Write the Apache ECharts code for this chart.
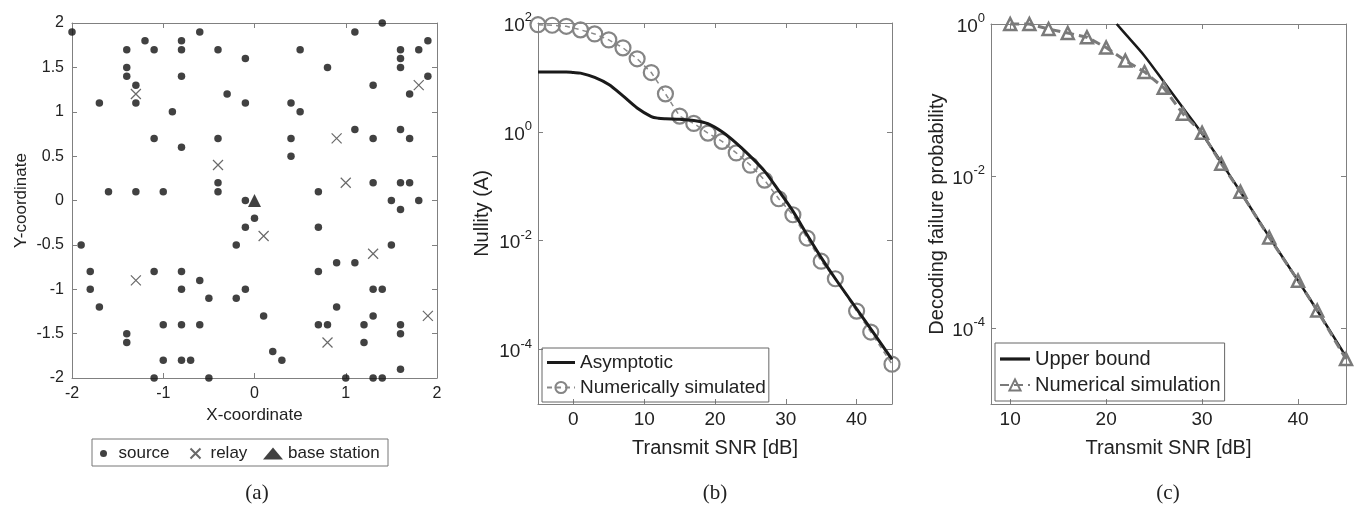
<!DOCTYPE html>
<html>
<head>
<meta charset="utf-8">
<script src="https://cdn.jsdelivr.net/npm/echarts@6/dist/echarts.min.js"></script>
<style>
html,body{margin:0;padding:0;background:#fff;}
#c{width:1356px;height:507px;}
</style>
</head>
<body>
<div id="c"></div>
<script>
// ---------- Panel (a): node positions ----------
const sourcePoints = [
  [-2.0,1.9],[-1.7,1.1],[-1.4,1.7],[-1.4,1.5],[-1.4,1.4],[-1.3,1.3],[-1.3,1.1],[-1.2,1.8],[-1.1,1.7],[-1.1,0.7],
  [-1.6,0.1],[-1.3,0.1],[-1.0,0.1],[-0.9,1.0],[-0.8,1.8],[-0.8,1.7],[-0.8,1.4],[-0.8,0.6],[-0.6,1.9],[-0.4,1.7],
  [-0.4,0.7],[-0.4,0.2],[-0.4,0.1],[-0.3,1.2],[-0.1,1.6],[-0.1,1.1],[-0.1,0.0],
  [0.5,1.7],[0.4,1.1],[0.5,1.0],[0.4,0.7],[0.4,0.5],[0.8,1.5],[0.7,0.1],[1.1,1.9],[1.4,2.0],[1.1,0.8],[1.3,1.3],
  [1.3,0.7],[1.3,0.2],[1.6,1.7],[1.6,1.6],[1.6,1.5],[1.6,0.8],[1.6,0.2],[1.7,1.2],[1.7,0.7],[1.7,0.2],[1.8,1.7],
  [1.9,1.8],[1.9,1.4],[1.5,0.0],[1.8,0.0],[1.6,-0.1],
  [0.0,-0.2],[-0.1,-0.3],[-0.2,-0.5],[-0.1,-1.0],[-0.2,-1.1],[-1.9,-0.5],[-1.8,-0.8],[-1.8,-1.0],[-1.7,-1.2],
  [-1.4,-1.5],[-1.4,-1.6],[-1.1,-0.8],[-1.1,-2.0],[-1.0,-1.4],[-1.0,-1.8],[-0.8,-0.8],[-0.8,-1.0],[-0.8,-1.4],
  [-0.8,-1.8],[-0.7,-1.8],[-0.6,-0.9],[-0.6,-1.4],[-0.5,-1.1],[-0.5,-2.0],
  [0.7,-0.3],[0.7,-0.8],[0.9,-0.7],[1.1,-0.7],[1.5,-0.5],[1.3,-1.0],[1.4,-1.0],[0.9,-1.2],[0.1,-1.3],[0.7,-1.4],
  [0.8,-1.4],[1.2,-1.4],[1.3,-1.3],[1.6,-1.4],[1.6,-1.5],[1.2,-1.6],[0.2,-1.7],[0.3,-1.8],[1.6,-1.9],[1.0,-2.0],
  [1.3,-2.0],[1.4,-2.0]
];
const relayPoints = [
  [-1.3,1.2],[-0.4,0.4],[0.9,0.7],[1.0,0.2],[1.8,1.3],[-1.3,-0.9],[0.1,-0.4],[1.3,-0.6],[1.9,-1.3],[0.8,-1.6]
];
const basePoints = [[0,0]];

// ---------- Panel (b): nullity ----------
const snrSimB = [-5,-3,-1,1,3,5,7,9,11,13,15,17,19,21,23,25,27,29,31,33,35,37,40,42,45];
const nullitySim = [93,91,87,75,63,49,35,22,12.3,5.0,1.95,1.43,0.95,0.67,0.41,0.245,0.13,0.059,0.030,0.0112,0.0042,0.0020,5.1e-4,2.1e-4,5.4e-5];
const snrAsym = [-5,-3,-1,0,1,3,5,7,9,11,12,13,15,17,19,21,23,25,27,29,31,33,35,37,40,42,45];
const nullityAsym = [12.6,12.6,12.6,12.3,12.0,10.0,7.4,4.57,2.75,1.91,1.78,1.74,1.70,1.62,1.41,1.0,0.62,0.355,0.19,0.083,0.035,0.0129,0.0049,0.0020,5.6e-4,2.4e-4,6.6e-5];

// ---------- Panel (c): decoding failure ----------
const snrSimC = [10,12,14,16,18,20,22,24,26,28,30,32,34,37,40,42,45];
const failSim = [1.0,1.0,0.86,0.76,0.67,0.49,0.33,0.234,0.145,0.066,0.037,0.0145,0.0062,0.00155,4.2e-4,1.7e-4,3.9e-5];
const snrBound = [21.1,22,24,26,28,30,32,34,37,40,42,45];
const failBound = [1.0,0.74,0.38,0.174,0.079,0.036,0.0151,0.0062,0.00158,4.2e-4,1.7e-4,4.2e-5];

// ---------- Tick labels ----------
const ticksAX = [-2,-1,0,1,2];
const ticksBX = [0,10,20,30,40];
const ticksBY = [1e-4,1e-2,1,1e2];
const ticksCX = [10,20,30,40];
const ticksCY = [1e-4,1e-2,1];

const FONT = 'Liberation Sans, Arial, sans-serif';
const TXT = '#222';
const AX = '#808080';
const LINE_ICON = 'path://M0,0H28V3H0Z';

function zip(xs, ys){ return xs.map((x,i)=>[x, ys[i]]); }

const supRich = {
  b:{fontSize:19, fontFamily:FONT, color:TXT, padding:[5,0,0,0], verticalAlign:'bottom'},
  s:{fontSize:13, fontFamily:FONT, color:TXT, verticalAlign:'top'}
};
function supFmt(v){ const e = Math.round(Math.log10(v)); return '{b|10}{s|' + e + '}'; }

function valAxis(o){
  return Object.assign({
    type:'value',
    axisLine:{show:true, onZero:false, lineStyle:{color:AX, width:1}},
    axisTick:{show:true, inside:true, length:5, lineStyle:{color:AX}},
    splitLine:{show:false},
    axisLabel:{color:TXT, fontFamily:FONT, fontSize:16},
    nameTextStyle:{color:TXT, fontFamily:FONT, fontSize:17}
  }, o);
}

const option = {
  animation:false,
  backgroundColor:'#fff',
  grid:[
    {left:72, top:23, width:365, height:355},
    {left:538, top:23, width:354, height:381},
    {left:991, top:24, width:355, height:380}
  ],
  xAxis:[
    valAxis({gridIndex:0, min:-2, max:2, interval:1, name:'X-coordinate', nameLocation:'middle', nameGap:24,
      axisLabel:{color:TXT, fontFamily:FONT, fontSize:16, margin:8}}),
    valAxis({gridIndex:0, position:'top', min:-2, max:2, interval:1, axisLabel:{show:false}}),
    valAxis({gridIndex:1, min:-5, max:45, name:'Transmit SNR [dB]', nameLocation:'middle', nameGap:34,
      nameTextStyle:{color:TXT, fontFamily:FONT, fontSize:20},
      axisTick:{show:true, inside:true, length:5, lineStyle:{color:AX}, customValues:ticksBX},
      axisLabel:{color:TXT, fontFamily:FONT, fontSize:19, margin:6, customValues:ticksBX}}),
    valAxis({gridIndex:1, position:'top', min:-5, max:45,
      axisTick:{show:true, inside:true, length:5, lineStyle:{color:AX}, customValues:ticksBX},
      axisLabel:{show:false}}),
    valAxis({gridIndex:2, min:8, max:45, name:'Transmit SNR [dB]', nameLocation:'middle', nameGap:34,
      nameTextStyle:{color:TXT, fontFamily:FONT, fontSize:20},
      axisTick:{show:true, inside:true, length:5, lineStyle:{color:AX}, customValues:ticksCX},
      axisLabel:{color:TXT, fontFamily:FONT, fontSize:19, margin:6, customValues:ticksCX}}),
    valAxis({gridIndex:2, position:'top', min:8, max:45,
      axisTick:{show:true, inside:true, length:5, lineStyle:{color:AX}, customValues:ticksCX},
      axisLabel:{show:false}})
  ],
  yAxis:[
    valAxis({gridIndex:0, min:-2, max:2, interval:0.5, name:'Y-coordinate', nameLocation:'middle', nameGap:42}),
    valAxis({gridIndex:0, position:'right', min:-2, max:2, interval:0.5, axisLabel:{show:false}}),
    valAxis({gridIndex:1, type:'log', logBase:10, min:1e-5, max:1e2, name:'Nullity (A)', nameLocation:'middle', nameGap:46,
      nameTextStyle:{color:TXT, fontFamily:FONT, fontSize:20},
      axisTick:{show:true, inside:true, length:5, lineStyle:{color:AX}, customValues:ticksBY},
      axisLabel:{customValues:ticksBY, formatter:supFmt, rich:supRich, margin:6}}),
    valAxis({gridIndex:1, type:'log', logBase:10, position:'right', min:1e-5, max:1e2,
      axisTick:{show:true, inside:true, length:5, lineStyle:{color:AX}, customValues:ticksBY},
      axisLabel:{show:false}}),
    valAxis({gridIndex:2, type:'log', logBase:10, min:1e-5, max:1, name:'Decoding failure probability', nameLocation:'middle', nameGap:44,
      nameTextStyle:{color:TXT, fontFamily:FONT, fontSize:20},
      axisTick:{show:true, inside:true, length:5, lineStyle:{color:AX}, customValues:ticksCY},
      axisLabel:{customValues:ticksCY, formatter:supFmt, rich:supRich, margin:6}}),
    valAxis({gridIndex:2, type:'log', logBase:10, position:'right', min:1e-5, max:1,
      axisTick:{show:true, inside:true, length:5, lineStyle:{color:AX}, customValues:ticksCY},
      axisLabel:{show:false}})
  ],
  legend:[
    {data:['source'], left:100, top:445, padding:0, itemWidth:20, itemHeight:7, icon:'circle',
      textStyle:{color:TXT, fontFamily:FONT, fontSize:17}, selectedMode:false},
    {data:['relay'], left:188, top:445, padding:0, itemWidth:20, itemHeight:10,
      textStyle:{color:TXT, fontFamily:FONT, fontSize:17}, selectedMode:false},
    {data:['base station'], left:263, top:445, padding:0, itemWidth:20, itemHeight:12, icon:'triangle',
      textStyle:{color:TXT, fontFamily:FONT, fontSize:17}, selectedMode:false},
    {data:[{name:'Asymptotic', icon:LINE_ICON}, 'Numerically simulated'], orient:'vertical', left:542, top:348, itemGap:6,
      padding:[5,3,5,4], itemWidth:28, itemHeight:14, borderColor:'#666', borderWidth:1, borderRadius:0,
      textStyle:{color:TXT, fontFamily:FONT, fontSize:19}, selectedMode:false},
    {data:[{name:'Upper bound', icon:LINE_ICON}, 'Numerical simulation'], orient:'vertical', left:995, top:343, itemGap:6,
      padding:[6,4,6,4], itemWidth:30, itemHeight:14, borderColor:'#666', borderWidth:1, borderRadius:0,
      textStyle:{color:TXT, fontFamily:FONT, fontSize:20}, selectedMode:false}
  ],
  graphic:[
    {type:'rect', shape:{x:92, y:439, width:296, height:27}, style:{fill:'none', stroke:'#777', lineWidth:1}},
    {type:'text', x:257, y:493, style:{text:'(a)', align:'center', verticalAlign:'middle', font:'21px "Liberation Serif", serif', fill:'#222'}},
    {type:'text', x:715, y:493, style:{text:'(b)', align:'center', verticalAlign:'middle', font:'21px "Liberation Serif", serif', fill:'#222'}},
    {type:'text', x:1168, y:493, style:{text:'(c)', align:'center', verticalAlign:'middle', font:'21px "Liberation Serif", serif', fill:'#222'}}
  ],
  series:[
    {name:'source', type:'scatter', xAxisIndex:0, yAxisIndex:0, data:sourcePoints, symbol:'circle', symbolSize:7.5,
      itemStyle:{color:'#111'}, clip:false},
    {name:'relay', type:'scatter', xAxisIndex:0, yAxisIndex:0, data:relayPoints, symbol:'path://M0,0L10,10M10,0L0,10', symbolSize:10,
      itemStyle:{color:'none', borderColor:'#444', borderWidth:1.2}, clip:false},
    {name:'base station', type:'scatter', xAxisIndex:0, yAxisIndex:0, data:basePoints, symbol:'triangle', symbolSize:13,
      itemStyle:{color:'#111'}, clip:false},
    {name:'Numerically simulated', type:'line', xAxisIndex:2, yAxisIndex:2, data:zip(snrSimB, nullitySim),
      symbol:'circle', symbolSize:15, showAllSymbol:true,
      itemStyle:{color:'rgba(0,0,0,0)', borderColor:'#858585', borderWidth:2.2},
      lineStyle:{color:'#8a8a8a', width:1.5, type:[5,4]}, clip:false, z:2},
    {name:'Asymptotic', type:'line', xAxisIndex:2, yAxisIndex:2, data:zip(snrAsym, nullityAsym),
      symbol:'none', smooth:0.3, lineStyle:{color:'#1a1a1a', width:3}, itemStyle:{color:'#1a1a1a'}, z:3},
    {name:'Upper bound', type:'line', xAxisIndex:4, yAxisIndex:4, data:zip(snrBound, failBound),
      symbol:'none', smooth:0.3, lineStyle:{color:'#1a1a1a', width:2.5}, itemStyle:{color:'#1a1a1a'}, z:2},
    {name:'Numerical simulation', type:'line', xAxisIndex:4, yAxisIndex:4, data:zip(snrSimC, failSim),
      symbol:'triangle', symbolSize:12, showAllSymbol:true,
      itemStyle:{color:'rgba(0,0,0,0)', borderColor:'#7a7a7a', borderWidth:2.5},
      lineStyle:{color:'#7a7a7a', width:3, type:[9,5]}, clip:false, z:3}
  ]
};

const chart = echarts.init(document.getElementById('c'), null, {renderer:'canvas'});
chart.setOption(option);
</script>
</body>
</html>
